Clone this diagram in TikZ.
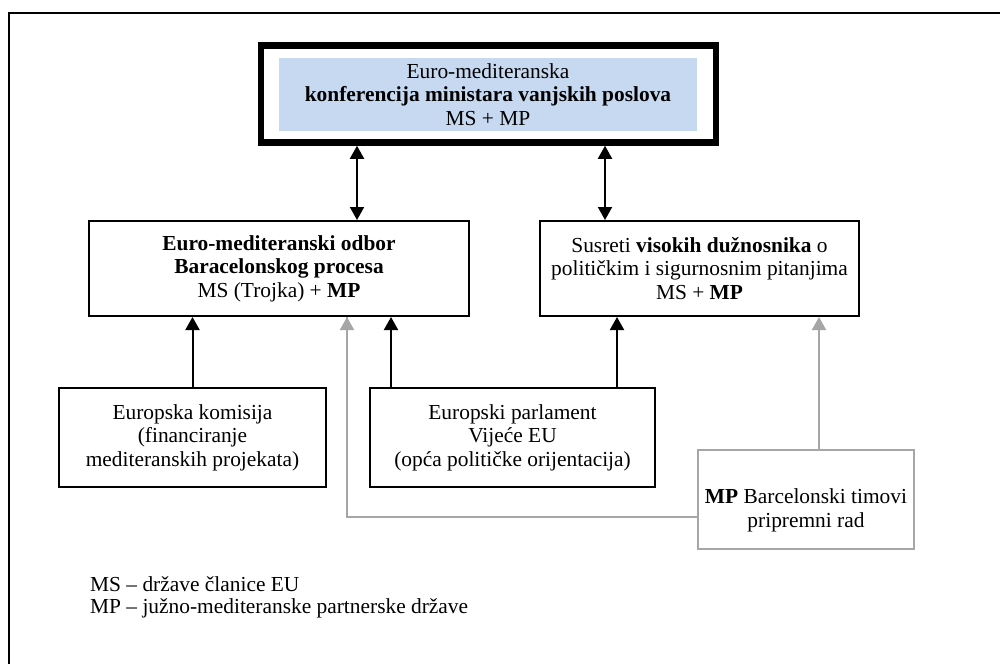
\documentclass[tikz,border=0pt]{standalone}
\usepackage{fontspec}
\setmainfont{Liberation Serif}
\usetikzlibrary{arrows.meta}
\definecolor{topblue}{HTML}{C6D9F1}
\definecolor{lgray}{HTML}{A6A6A6}
\begin{document}
\begin{tikzpicture}[x=1pt,y=-1pt,
  every node/.style={font=\fontsize{21.4}{23.6}\selectfont, align=center, inner sep=0pt},
  box/.style={draw=black, line width=2pt, minimum height=95pt},
  graybox/.style={draw=lgray, line width=2pt, minimum height=99pt},
  topframe/.style={draw=black, line width=6.5pt, minimum width=455pt, minimum height=97pt},
  conn/.style={line width=2pt, -{Triangle[length=13pt,width=14pt]}},
  dconn/.style={line width=2pt, {Triangle[length=13pt,width=14pt]}-{Triangle[length=13pt,width=14pt]}},
  gconn/.style={line width=2pt, draw=lgray, -{Triangle[length=13pt,width=14pt]}},
  gline/.style={line width=2pt, draw=lgray}
]
\useasboundingbox (0,0) rectangle (1000,664);
\fill[white] (0,0) rectangle (1000,664);
% outer frame (open on right and bottom)
\draw[line width=2.5pt] (9,664) -- (9,13) -- (1000,13);

% top box
\node[topframe] (top) at (488.5,94) {};
\node[fill=topblue, minimum width=418pt, minimum height=73pt] (toptext) at (488,94.5)
  {Euro-mediteranska\\ \textbf{konferencija ministara vanjskih poslova}\\ MS + MP};

% middle boxes
\node[box, minimum width=380pt] (lm) at (279,268.5)
  {\textbf{Euro-mediteranski odbor}\\ \textbf{Baracelonskog procesa}\\ MS (Trojka) + \textbf{MP}};
\node[box, minimum width=319pt] (rm) at (699.5,268.5)
  {Susreti \textbf{visokih dužnosnika} o\\ političkim i sigurnosnim pitanjima\\ MS + \textbf{MP}};

% bottom boxes
\node[box, minimum width=267pt, minimum height=99pt] (kom) at (192.5,437.5)
  {Europska komisija\\ (financiranje\\ mediteranskih projekata)};
\node[box, minimum width=285pt, minimum height=99pt] (ep) at (512.5,437.5)
  {Europski parlament\\ Vijeće EU\\ (opća političke orijentacija)};
\node[graybox, minimum width=216pt] (mpb) at (806,499.5) {};
\node (mpbtext) at ([yshift=-11pt]mpb.center) {\textbf{MP} Barcelonski timovi\\ pripremni rad};

% helper coordinates
\coordinate (xa) at (357,0);
\coordinate (xb) at (605,0);
\coordinate (xc) at (391,0);
\coordinate (xd) at (617,0);
\coordinate (xe) at (819,0);
\coordinate (xg) at (347,0);
\coordinate (yg) at (0,517);

% connectors
\draw[dconn] (top.south -| xa) -- (lm.north -| xa);
\draw[dconn] (top.south -| xb) -- (rm.north -| xb);
\draw[conn] (kom.north) -- (kom.north |- lm.south);
\draw[conn] (ep.north -| xc) -- (lm.south -| xc);
\draw[conn] (ep.north -| xd) -- (rm.south -| xd);
\draw[gconn] (mpb.north -| xe) -- (rm.south -| xe);
\draw[gline] (mpb.west |- yg) -- (xg |- yg) -- (lm.south -| xg);
\path[gconn] (xg |- yg) -- (lm.south -| xg);

% legend
\node[anchor=base west] (leg1) at (90,591) {MS – države članice EU};
\node[anchor=base west] (leg2) at (90,613) {MP – južno-mediteranske partnerske države};
\end{tikzpicture}
\end{document}
